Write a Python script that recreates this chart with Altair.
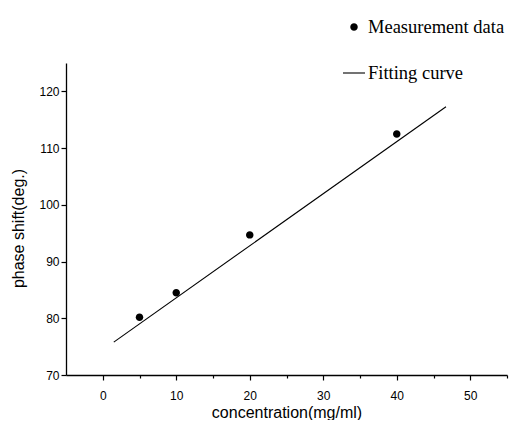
import altair as alt
import pandas as pd

# measured data
conc = [5, 10, 20, 40]
phase = [80.2, 84.5, 94.7, 112.5]
# fitted line end points
fit_x = [1.5, 46.7]
fit_y = [75.8, 117.3]

series_names = ["Measurement data", "Fitting curve"]
x_ticks = [0, 5, 10, 15, 20, 25, 30, 35, 40, 45, 50, 55]
y_ticks = [70, 75, 80, 85, 90, 95, 100, 105, 110, 115, 120, 125]

pts = pd.DataFrame({"c": conc, "p": phase, "series": series_names[0]})
fit = pd.DataFrame({"c": fit_x, "p": fit_y})

CIRCLE = "M-0.34,0A0.34,0.34 0 1,0 0.34,0A0.34,0.34 0 1,0 -0.34,0Z"
STROKE = "M-1,-0.05L1,-0.05L1,0.05L-1,0.05Z"

tick_size = {"condition": {"test": "datum.value % 10 === 0", "value": 5}, "value": 3}

x_enc = alt.X(
    "c:Q",
    scale=alt.Scale(domain=[-5, 55], nice=False, zero=False),
    axis=alt.Axis(
        values=x_ticks,
        labelExpr="datum.value % 10 === 0 ? datum.label : ''",
        tickSize=tick_size,
        title="concentration(mg/ml)",
        titlePadding=3,
        labelPadding=10,
    ),
)
y_enc = alt.Y(
    "p:Q",
    scale=alt.Scale(domain=[70, 125], nice=False, zero=False),
    axis=alt.Axis(
        values=y_ticks,
        labelExpr="datum.value % 10 === 0 ? datum.label : ''",
        tickSize=tick_size,
        title="phase shift(deg.)",
        titlePadding=12,
        titleY=165,
        labelPadding=2,
    ),
)

line = alt.Chart(fit).mark_line(color="black", strokeWidth=1.1).encode(x=x_enc, y=y_enc)

points = alt.Chart(pts).mark_point(
    filled=True, color="black", size=484, opacity=1,
).encode(
    x="c:Q",
    y="p:Q",
    shape=alt.Shape(
        "series:N",
        scale=alt.Scale(domain=series_names, range=[CIRCLE, STROKE]),
        legend=alt.Legend(
            title=None,
            orient="none",
            legendX=276,
            legendY=-48,
            symbolSize=484,
            symbolFillColor="black",
            symbolOpacity=1,
            labelFont="Liberation Serif",
            labelFontSize=18.5,
            labelColor="black",
            labelOffset=2,
            rowPadding=24,
            padding=0,
            labelLimit=300,
        ),
    ),
)

chart = (
    alt.layer(line, points)
    .properties(
        width=441,
        height=312,
        autosize=alt.AutoSizeParams(type="none"),
        padding={"left": 58, "top": 55, "right": 7, "bottom": 45},
        background="white",
    )
    .configure_view(stroke=None)
    .configure_axis(
        grid=False,
        domainColor="black",
        domainWidth=1.3,
        tickColor="black",
        tickWidth=1.2,
        labelFont="Liberation Sans",
        labelFontSize=12,
        labelColor="black",
        titleFont="Liberation Sans",
        titleFontSize=16,
        titleFontWeight="normal",
        titleColor="black",
    )
)

chart.save("out.html", embed_options={"renderer": "svg", "actions": False})
